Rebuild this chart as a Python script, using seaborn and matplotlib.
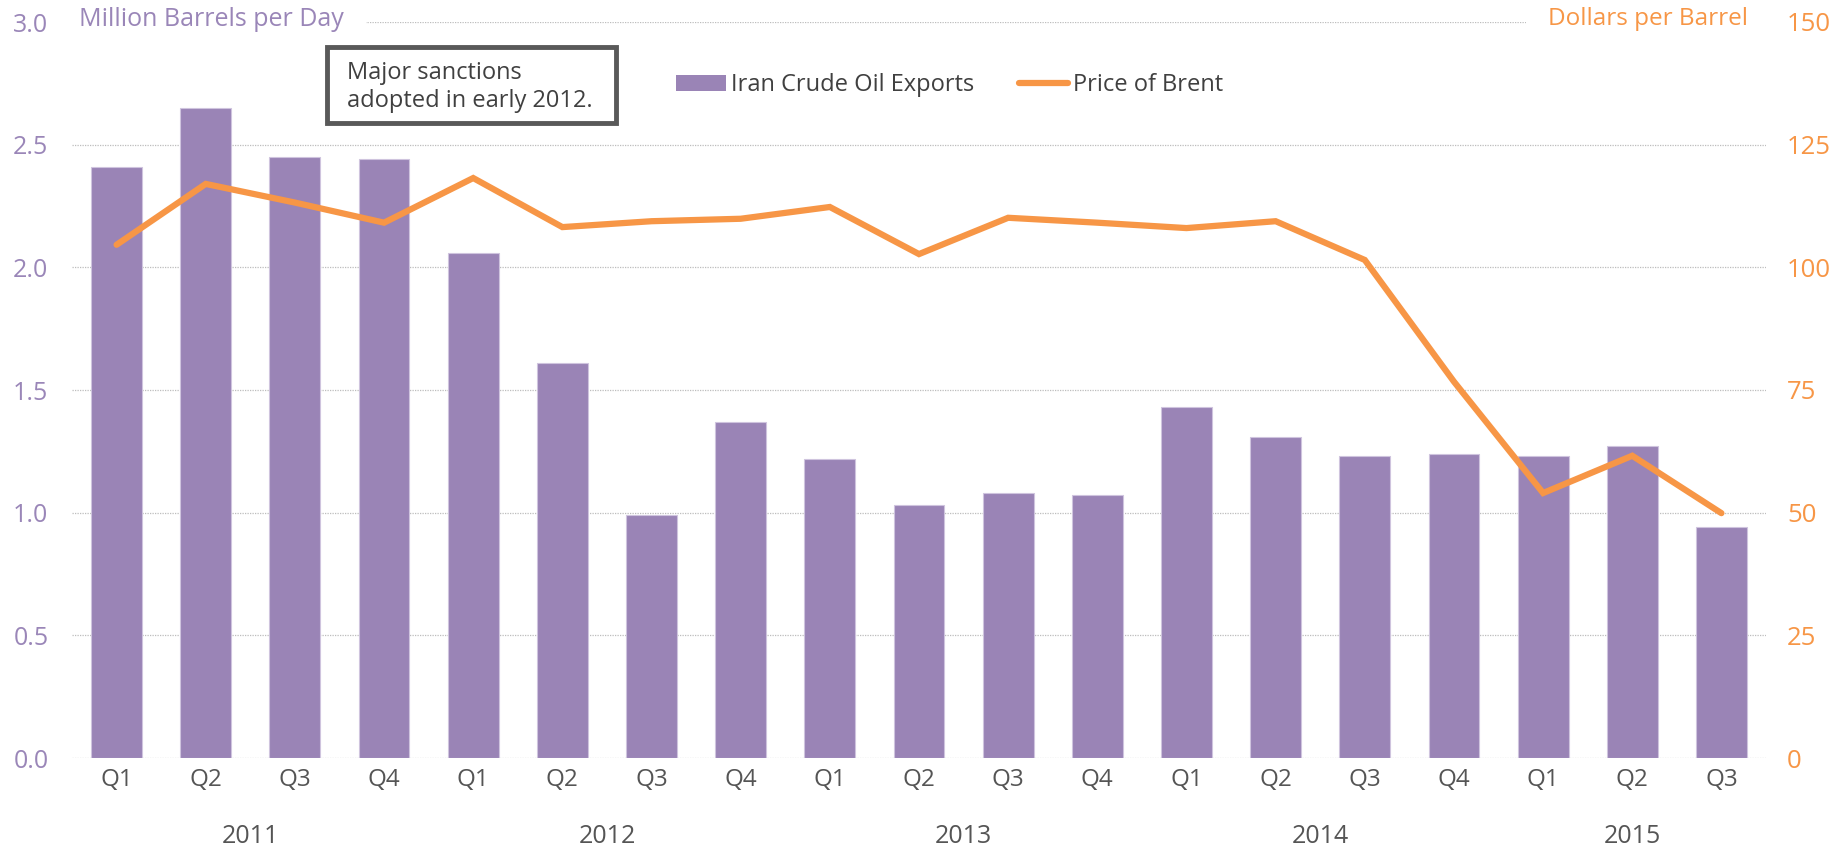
import numpy as np
import pandas as pd
import matplotlib
matplotlib.use("Agg")
import matplotlib.pyplot as plt
import matplotlib.transforms as mtransforms
from matplotlib.patches import Rectangle, Patch
from matplotlib.lines import Line2D
import seaborn as sns

years = ["2011", "2011", "2011", "2011",
         "2012", "2012", "2012", "2012",
         "2013", "2013", "2013", "2013",
         "2014", "2014", "2014", "2014",
         "2015", "2015", "2015"]
quarters = ["Q1", "Q2", "Q3", "Q4"] * 4 + ["Q1", "Q2", "Q3"]
exports = [2.41, 2.65, 2.45, 2.44,
           2.06, 1.61, 0.99, 1.37,
           1.22, 1.03, 1.08, 1.07,
           1.43, 1.31, 1.23, 1.24,
           1.23, 1.27, 0.94]
brent = [104.6, 117.0, 113.2, 109.1,
         118.2, 108.2, 109.4, 109.9,
         112.3, 102.7, 110.1, 109.1,
         108.0, 109.4, 101.5, 76.7,
         54.0, 61.6, 49.9]
left_ticks = [0.0, 0.5, 1.0, 1.5, 2.0, 2.5, 3.0]
right_ticks = [0, 25, 50, 75, 100, 125, 150]

PURPLE = "#9A84B6"
PURPLE_TXT = "#9A86B8"
ORANGE = "#F79646"
GRAY = "#555555"

sns.set_theme(style="white")
plt.rcParams["font.family"] = ["Open Sans", "DejaVu Sans"]

df = pd.DataFrame({"period": [f"{y} {q}" for y, q in zip(years, quarters)],
                   "exports": exports, "brent": brent})
df["pos"] = np.arange(len(df))

fig = plt.figure(figsize=(18.43, 8.47), dpi=100)
ax = fig.add_axes([72 / 1843, 1 - 758 / 847, (1766 - 72) / 1843, (758 - 22) / 847])

sns.barplot(data=df, x="period", y="exports", color=PURPLE, saturation=1,
            width=0.57, edgecolor="#CFC4DE", linewidth=0.8, ax=ax, zorder=2)
ax.set_xlim(-0.5, len(df) - 0.5)
ax.set_ylim(0, 3.0)
ax.set_yticks(left_ticks)
ax.set_yticklabels([f"{v:.1f}" for v in left_ticks])
ax.set_xticks(df["pos"])
ax.set_xticklabels(quarters)
ax.set_xlabel("")
ax.set_ylabel("")
ax.tick_params(axis="y", length=0, pad=17, labelsize=18, labelcolor=PURPLE_TXT)
ax.tick_params(axis="x", length=0, pad=7, labelsize=17.5, labelcolor=GRAY)
ax.yaxis.grid(True, linestyle=(0, (1, 1)), color="#BDBDBD", linewidth=0.9)
ax.set_axisbelow(True)
for s in ax.spines.values():
    s.set_visible(False)

ax2 = ax.twinx()
sns.lineplot(data=df, x="pos", y="brent", color=ORANGE, linewidth=4.5, ax=ax2,
             solid_capstyle="round", solid_joinstyle="miter")
ax2.set_ylim(0, 150)
ax2.set_xlim(-0.5, len(df) - 0.5)
ax2.set_yticks(right_ticks)
ax2.set_yticklabels([str(v) for v in right_ticks])
ax2.set_ylabel("")
ax2.set_xlabel("")
ax2.tick_params(axis="y", length=0, pad=15, labelsize=18.5, labelcolor=ORANGE)
for s in ax2.spines.values():
    s.set_visible(False)
ax2.grid(False)

# year group labels
trans = mtransforms.blended_transform_factory(ax.transData, ax.transAxes)
for yr in dict.fromkeys(years):
    center = df.loc[df["period"].str.startswith(yr), "pos"].mean()
    ax.text(center, -0.107, yr, transform=trans, ha="center", va="center",
            fontsize=18, color=GRAY)

# axis titles (white background hides the top gridline)
fig.text(79 / 1843, 1 - 19 / 847, "Million Barrels per Day", ha="left", va="center",
         fontsize=18, color=PURPLE_TXT,
         bbox=dict(boxstyle="square,pad=0.9", fc="white", ec="none"))
fig.text(1748 / 1843, 1 - 19 / 847, "Dollars per Barrel", ha="right", va="center",
         fontsize=17.5, color=ORANGE,
         bbox=dict(boxstyle="square,pad=0.9", fc="white", ec="none"))

# annotation box
box = Rectangle((327 / 1843, 1 - 123 / 847), (616 - 327) / 1843, (123 - 47) / 847,
                transform=fig.transFigure, fc="white", ec="#595959", lw=3.5, zorder=10)
fig.patches.append(box)
fig.text(347 / 1843, 1 - 87 / 847, "Major sanctions\nadopted in early 2012.",
         ha="left", va="center", fontsize=17, color="#404040", linespacing=1.25,
         zorder=11)

# legend
handles = [Patch(facecolor=PURPLE, edgecolor="none", label="Iran Crude Oil Exports"),
           Line2D([0], [0], color=ORANGE, lw=4.5, solid_capstyle="round",
                  label="Price of Brent")]
fig.legend(handles=handles, loc="center left", bbox_to_anchor=(655 / 1843, 1 - 85 / 847),
           ncol=2, frameon=False, fontsize=17, handlelength=2.1, handleheight=0.65,
           handletextpad=0.2, columnspacing=1.9, labelcolor="#404040")

fig.savefig("out.png", dpi=100, facecolor="white")
